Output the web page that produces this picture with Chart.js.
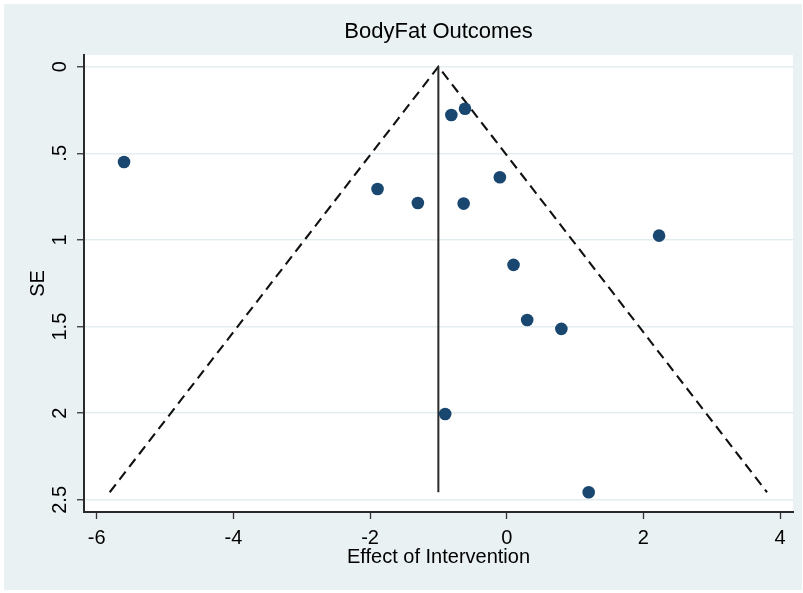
<!DOCTYPE html>
<html>
<head>
<meta charset="utf-8">
<script src="https://cdn.jsdelivr.net/npm/chart.js@4.4.1/dist/chart.umd.min.js"></script>
<style>
  html, body { margin: 0; padding: 0; background: #ffffff; }
  #wrap { width: 803px; height: 593px; }
</style>
</head>
<body>
<div id="wrap"><canvas id="c" width="803" height="593"></canvas></div>
<script>
// Study estimates (effect of intervention) and their standard errors
const effects = [-5.60, -1.89, -1.30, -0.81, -0.61, -0.63, -0.10, 0.10, 2.23, 0.30, 0.80, -0.90, 1.20];
const stdErrors = [0.55, 0.706, 0.787, 0.279, 0.243, 0.79, 0.638, 1.144, 0.975, 1.462, 1.513, 2.004, 2.456];

// Pooled effect line and pseudo-95% confidence funnel
const pooledX = [-1.0, -1.0];
const pooledY = [0, 2.456];
const funnelX = [-5.81, -1.0, 3.81];
const funnelY = [2.456, 0, 2.456];

// Axis ticks
const xTicks = [-6, -4, -2, 0, 2, 4];
const xTickLabels = ['-6', '-4', '-2', '0', '2', '4'];
const yTicks = [0, 0.5, 1, 1.5, 2, 2.5];
const yTickLabels = ['0', '.5', '1', '1.5', '2', '2.5'];

const titleText = 'BodyFat Outcomes';
const xTitle = 'Effect of Intervention';
const yTitle = 'SE';

const FONT = '"Liberation Sans", Arial, sans-serif';

const bgPlugin = {
  id: 'bg',
  beforeDraw(chart) {
    const ctx = chart.ctx;
    const a = chart.chartArea;
    ctx.save();
    ctx.fillStyle = '#eaf1f3';
    ctx.fillRect(4, 4, 798, 586);
    ctx.fillStyle = '#ffffff';
    ctx.fillRect(a.left, a.top, a.right - a.left, a.bottom - a.top);
    ctx.restore();
  }
};

new Chart(document.getElementById('c'), {
  type: 'scatter',
  data: {
    datasets: [
      {
        label: 'studies',
        data: effects.map((e, i) => ({ x: e, y: stdErrors[i] })),
        backgroundColor: '#1a476f',
        borderWidth: 0,
        pointRadius: 6.3,
        pointHoverRadius: 6.3,
        order: 0
      },
      {
        type: 'line',
        label: 'pooled',
        data: pooledX.map((x, i) => ({ x: x, y: pooledY[i] })),
        borderColor: '#2b2b2b',
        borderWidth: 2,
        pointRadius: 0,
        fill: false,
        order: 1
      },
      {
        type: 'line',
        label: 'funnel',
        data: funnelX.map((x, i) => ({ x: x, y: funnelY[i] })),
        borderColor: '#111111',
        borderWidth: 2.1,
        borderDash: [10, 6],
        pointRadius: 0,
        fill: false,
        tension: 0,
        order: 1
      }
    ]
  },
  options: {
    responsive: false,
    animation: false,
    events: [],
    layout: { padding: { left: 0, right: 10, top: 0, bottom: 0 } },
    plugins: {
      legend: { display: false },
      tooltip: { enabled: false },
      title: {
        display: true,
        text: titleText,
        fullSize: false,
        color: '#000',
        font: { family: FONT, size: 22, weight: 'normal' },
        padding: { top: 19, bottom: 9.6 }
      }
    },
    scales: {
      x: {
        type: 'linear',
        min: -6.186,
        max: 4.19,
        afterFit: s => { s.height = 81; },
        afterBuildTicks: s => { s.ticks = xTicks.map(v => ({ value: v })); },
        ticks: {
          color: '#000',
          font: { family: FONT, size: 20 },
          padding: 7,
          maxRotation: 0,
          autoSkip: false,
          callback: (v) => xTickLabels[xTicks.indexOf(v)]
        },
        grid: {
          drawOnChartArea: false,
          drawTicks: true,
          tickLength: 7,
          tickColor: '#333',
          tickWidth: 1.3
        },
        border: { display: true, color: '#2a2a2a', width: 2 },
        title: {
          display: true,
          text: xTitle,
          color: '#000',
          font: { family: FONT, size: 20 },
          padding: { top: 0, bottom: 23.5 }
        }
      },
      y: {
        type: 'linear',
        reverse: true,
        min: -0.0675,
        max: 2.57,
        afterFit: s => { s.width = 84; },
        afterBuildTicks: s => { s.ticks = yTicks.map(v => ({ value: v })); },
        ticks: {
          color: '#000',
          font: { family: FONT, size: 20 },
          padding: 3,
          minRotation: 90,
          maxRotation: 90,
          crossAlign: 'center',
          autoSkip: false,
          callback: (v) => yTickLabels[yTicks.indexOf(v)]
        },
        grid: {
          color: '#e3edf0',
          lineWidth: 1.5,
          drawTicks: true,
          tickLength: 7,
          tickColor: '#333',
          tickWidth: 1.3
        },
        border: { display: true, color: '#2a2a2a', width: 2 },
        title: {
          display: true,
          text: yTitle,
          color: '#000',
          font: { family: FONT, size: 20 },
          padding: { top: 26, bottom: 0 }
        }
      }
    }
  },
  plugins: [bgPlugin]
});
</script>
</body>
</html>
